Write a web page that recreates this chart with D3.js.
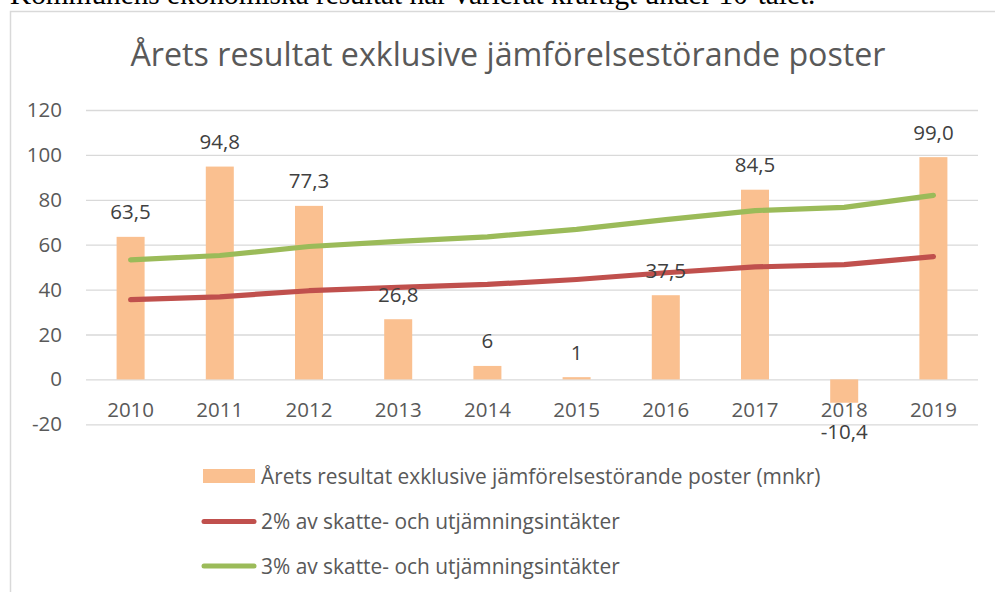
<!DOCTYPE html>
<html>
<head>
<meta charset="utf-8">
<script src="https://cdn.jsdelivr.net/npm/d3@7/dist/d3.min.js"></script>
<style>
  body { margin: 0; background: #ffffff; overflow: hidden; }
</style>
</head>
<body>
<div class="chart"></div>
<script>
// Values
var years = ["2010", "2011", "2012", "2013", "2014", "2015", "2016", "2017", "2018", "2019"];
var resultValues = [63.5, 94.8, 77.3, 26.8, 6, 1, 37.5, 84.5, -10.4, 99.0];
var resultLabels = ["63,5", "94,8", "77,3", "26,8", "6", "1", "37,5", "84,5", "-10,4", "99,0"];
var twoPercent = [35.5, 36.8, 39.5, 41.0, 42.3, 44.5, 47.5, 50.1, 51.1, 54.7];
var threePercent = [53.2, 55.2, 59.2, 61.5, 63.5, 66.8, 71.2, 75.2, 76.6, 82.0];
var yTicks = [-20, 0, 20, 40, 60, 80, 100, 120];
var seriesNames = [
    "Årets resultat exklusive jämförelsestörande poster (mnkr)",
    "2% av skatte- och utjämningsintäkter",
    "3% av skatte- och utjämningsintäkter"
];
var chartTitle = "Årets resultat exklusive jämförelsestörande poster";
var introText = "Kommunens ekonomiska resultat har varierat kraftigt under 10-talet.";

var width = 995;
var height = 592;

// Colours in the old Office theme
var barColor = "#FAC090";
var redColor = "#C0504D";
var greenColor = "#9BBB59";
var gridColor = "#D9D9D9";
var axisText = "#595959";
var labelText = "#404040";
var font = "'Open Sans', sans-serif";

var svg = d3.select("div.chart")
    .append("svg")
    .attr("width", width)
    .attr("height", height)
    .style("display", "block");

// The sentence above the chart, cut by the top of the picture
svg.append("text")
    .attr("x", 10)
    .attr("y", 4)
    .attr("font-family", "'Liberation Serif', 'Times New Roman', serif")
    .attr("font-size", 29.3)
    .attr("fill", "#000")
    .text(introText);

// Chart frame (right and bottom edges fall outside the picture)
svg.append("rect")
    .attr("x", 10.5)
    .attr("y", 11.5)
    .attr("width", 1010)
    .attr("height", 600)
    .attr("fill", "#fff")
    .attr("stroke", gridColor)
    .attr("stroke-width", 1.5);

svg.append("text")
    .attr("x", 508)
    .attr("y", 66)
    .attr("text-anchor", "middle")
    .attr("font-family", font)
    .attr("font-size", 32.2)
    .attr("fill", axisText)
    .text(chartTitle);

// Scales
var x = d3.scaleBand()
    .domain(years)
    .range([86, 978])
    .paddingInner(0.686)
    .paddingOuter(0.343);

var y = d3.scaleLinear()
    .domain([-20, 120])
    .range([424.3, 110]);

// Gridlines
svg.append("g")
    .attr("transform", "translate(86,0)")
    .call(d3.axisLeft(y).tickValues(yTicks).tickSize(-892).tickFormat(""))
    .call(g => g.select(".domain").remove())
    .selectAll("line")
    .attr("stroke", gridColor)
    .attr("stroke-width", 1.3);

// Y axis labels
svg.append("g")
    .attr("transform", "translate(62,0)")
    .call(d3.axisLeft(y).tickValues(yTicks).tickSize(0).tickPadding(0).tickFormat(d => String(d)))
    .call(g => g.select(".domain").remove())
    .selectAll("text")
    .attr("font-family", font)
    .attr("font-size", 20.5)
    .attr("fill", axisText);

// Bars
svg.append("g")
    .selectAll("rect")
    .data(resultValues)
    .join("rect")
    .attr("x", (d, i) => x(years[i]))
    .attr("width", x.bandwidth())
    .attr("y", d => y(Math.max(0, d)))
    .attr("height", d => Math.abs(y(d) - y(0)))
    .attr("fill", barColor);

// X axis labels
svg.append("g")
    .attr("transform", `translate(0,${y(0)})`)
    .call(d3.axisBottom(x).tickSize(0))
    .call(g => g.select(".domain").remove())
    .selectAll("text")
    .attr("y", 410 - y(0))
    .attr("dy", "0.36em")
    .attr("font-family", font)
    .attr("font-size", 20.5)
    .attr("fill", axisText);

// The two lines
var line = d3.line()
    .x((d, i) => x(years[i]) + x.bandwidth() / 2)
    .y(d => y(d));

[[twoPercent, redColor], [threePercent, greenColor]].forEach(function (s) {
    svg.append("path")
        .datum(s[0])
        .attr("d", line)
        .attr("fill", "none")
        .attr("stroke", s[1])
        .attr("stroke-width", 5.2)
        .attr("stroke-linecap", "round")
        .attr("stroke-linejoin", "round");
});

// Data labels on the bars
svg.append("g")
    .selectAll("text")
    .data(resultValues)
    .join("text")
    .attr("x", (d, i) => x(years[i]) + x.bandwidth() / 2)
    .attr("y", d => d >= 0 ? y(d) - 25 : y(d) + 29)
    .attr("dy", "0.36em")
    .attr("text-anchor", "middle")
    .attr("font-family", font)
    .attr("font-size", 20.5)
    .attr("fill", labelText)
    .text((d, i) => resultLabels[i]);

// Legend
var legendRows = [476, 521.5, 566];
var legend = svg.append("g")
    .selectAll("g")
    .data(seriesNames)
    .join("g")
    .attr("transform", (d, i) => `translate(0,${legendRows[i]})`);

legend.filter((d, i) => i == 0)
    .append("rect")
    .attr("x", 203)
    .attr("y", -7)
    .attr("width", 52)
    .attr("height", 14)
    .attr("fill", barColor);

legend.filter((d, i) => i > 0)
    .append("line")
    .attr("x1", 204)
    .attr("x2", 254)
    .attr("stroke", (d, i) => i == 0 ? redColor : greenColor)
    .attr("stroke-width", 5)
    .attr("stroke-linecap", "round");

legend.append("text")
    .attr("x", 261)
    .attr("dy", "0.36em")
    .attr("font-family", font)
    .attr("font-size", 20.9)
    .attr("fill", axisText)
    .text(d => d);
</script>
</body>
</html>
